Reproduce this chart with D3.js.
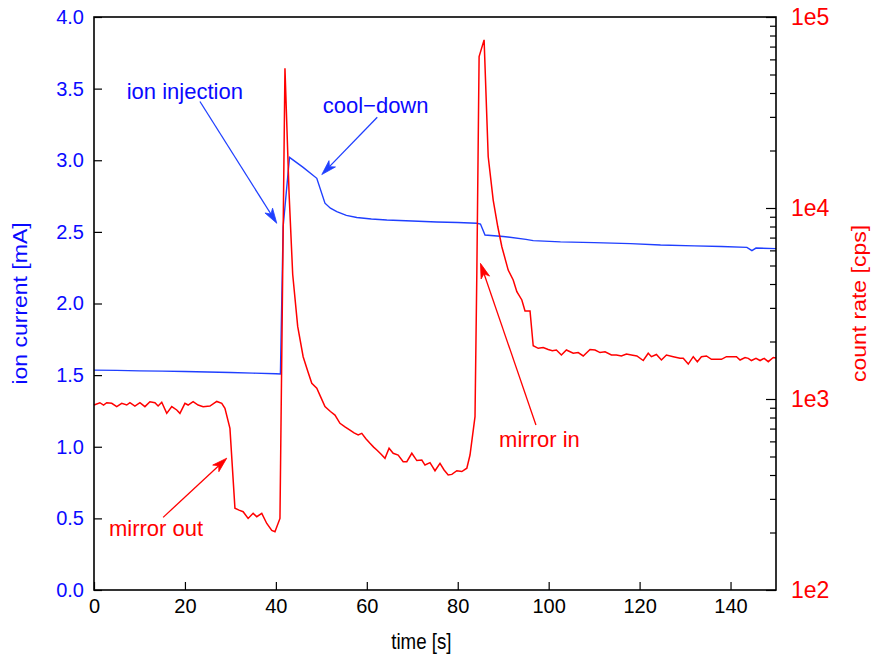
<!DOCTYPE html>
<html>
<head>
<meta charset="utf-8">
<script src="https://cdn.jsdelivr.net/npm/d3@7"></script>
<style>
  body { margin: 0; background: #fff; }
  text { font-family: "Liberation Sans", Arial, Helvetica, sans-serif; }
</style>
</head>
<body>
<div id="chart"></div>
<script>
// ion current (blue, left axis)
var ionTime = [0, 5, 10, 15, 20, 25, 30, 35, 40, 41.0, 41.6, 43.0, 46, 49.0, 50.8, 52.0, 53.4, 55.5, 57.8, 61, 64.4, 70, 75.4, 80, 84.2, 85.0, 86.0, 90, 95, 96.6, 102.6, 110, 118, 124.6, 132, 138, 143.6, 144.7, 145.6, 150];
var ionCurrent = [1.535, 1.533, 1.530, 1.528, 1.525, 1.522, 1.518, 1.514, 1.510, 1.508, 2.536, 3.02, 2.95, 2.874, 2.70, 2.665, 2.641, 2.615, 2.600, 2.59, 2.583, 2.576, 2.569, 2.565, 2.560, 2.555, 2.478, 2.468, 2.448, 2.439, 2.43, 2.425, 2.418, 2.408, 2.402, 2.398, 2.392, 2.369, 2.387, 2.383];

// count rate (red, right log axis)
var rateTime = [0, 1.3, 2.1, 2.8, 3.9, 5.0, 6.1, 7.2, 7.9, 9.0, 10.1, 11.2, 12.3, 13.4, 14.1, 14.9, 16.0, 17.1, 18.2, 18.9, 20.0, 20.7, 21.8, 22.9, 24.0, 25.5, 27.0, 28.1, 28.8, 29.9, 31.0, 31.9, 32.8, 33.9, 35.0, 35.8, 36.9, 38.0, 39.1, 39.8, 40.9,
  42.0, 42.9, 43.7, 44.8, 46.0, 47.0, 47.9, 49.0, 49.9, 50.8, 52.0, 53.0, 54.1, 55.2, 56.3, 57.2, 58.1, 58.9, 59.8, 60.7, 61.5, 62.2, 63.1, 64.0, 64.9, 65.8, 66.9, 68.0, 68.8, 69.9, 71.0, 72.1, 72.8, 73.9, 75.0, 76.1, 77.0, 77.9, 78.7, 79.8, 80.9, 82.0, 82.7, 83.8, 84.2, 84.7, 85.8,
  86.7, 87.8, 88.8, 89.7, 91.1, 92.2, 93.0, 94.1, 94.8, 95.9, 96.6, 97.7, 98.8, 99.9, 100.8, 101.7, 102.8, 103.9, 105.4, 106.5, 107.6, 109.1, 110.2, 111.3, 112.4, 113.8, 114.9, 116.0, 117.1, 118.2, 119.4, 120.8, 121.9, 122.6, 123.7, 124.8, 125.9, 127.4, 128.9, 129.6, 130.7, 131.8, 132.7, 133.6, 134.7, 135.8, 136.9, 138.0, 139.1, 140.2, 141.3, 142.1, 143.2, 143.9, 144.6, 145.6, 146.5, 147.4, 148.3, 149.4, 150];
var countRate = [930, 956, 930, 956, 949, 912, 949, 930, 956, 919, 956, 912, 968, 956, 919, 961, 841, 912, 876, 841, 949, 930, 968, 930, 912, 919, 971, 949, 893, 702, 268, 262, 257, 237, 252, 242, 252, 223, 205, 202, 237,
  53900, 12000, 4500, 2400, 1665, 1400, 1208, 1138, 1020, 912, 860, 824, 746, 715, 688, 665, 648, 661, 620, 586, 560, 541, 515, 489, 552, 520, 509, 470, 470, 520, 476, 479, 451, 464, 421, 460, 425, 400, 403, 421, 417, 434, 509, 808, 4550, 62000, 75900,
  18600, 11000, 8000, 6270, 4730, 4200, 3650, 3300, 2890, 2890, 1900, 1842, 1860, 1815, 1790, 1805, 1700, 1805, 1735, 1750, 1680, 1815, 1805, 1750, 1765, 1700, 1700, 1680, 1720, 1700, 1680, 1590, 1735, 1666, 1710, 1600, 1700, 1666, 1633, 1633, 1524, 1666, 1568, 1666, 1680, 1613, 1613, 1613, 1666, 1666, 1666, 1600, 1650, 1633, 1590, 1633, 1590, 1633, 1568, 1650, 1640];

var timeTicks = [0, 20, 40, 60, 80, 100, 120, 140];
var currentTicks = [0, 0.5, 1.0, 1.5, 2.0, 2.5, 3.0, 3.5, 4.0];
var rateTicks = [1e2, 1e3, 1e4, 1e5];

// annotations: text position and arrow (from -> to), in data units
var blueNotes = [
  { label: "ion injection", tx: 7.2, ty: 3.43, x1: 23.3, y1: 3.41, x2: 40.2, y2: 2.56 },
  { label: "cool\u2212down", tx: 50.3, ty: 3.33, x1: 62.3, y1: 3.30, x2: 50.1, y2: 2.90 }
];
var redNotes = [
  { label: "mirror out", tx: 3.3, ty: 192, x1: 15.2, y1: 240, x2: 29.2, y2: 490 },
  { label: "mirror in", tx: 89.1, ty: 563, x1: 97.2, y1: 731, x2: 85.0, y2: 5130 }
];

var width = 875, height = 662;
var margin = { left: 94, right: 99, top: 17, bottom: 72 };
var blue = "#1f3fff", blueText = "#0a0aff", red = "#ff0000";

var svg = d3.select("#chart").append("svg")
  .attr("width", width)
  .attr("height", height);

var x = d3.scaleLinear().domain([0, 150]).range([margin.left, width - margin.right]);
var yL = d3.scaleLinear().domain([0, 4]).range([height - margin.bottom, margin.top]);
var yR = d3.scaleLog().domain([1e2, 1e5]).range([height - margin.bottom, margin.top]);

// axes
var gx = svg.append("g")
  .attr("transform", "translate(0," + (height - margin.bottom) + ")")
  .call(d3.axisBottom(x).tickValues(timeTicks).tickSizeInner(-8).tickSizeOuter(0).tickPadding(9)
    .tickFormat(d3.format("d")));

var gl = svg.append("g")
  .attr("transform", "translate(" + margin.left + ",0)")
  .call(d3.axisLeft(yL).tickValues(currentTicks).tickSizeInner(-8).tickSizeOuter(0).tickPadding(10)
    .tickFormat(d3.format(".1f")));

var minorRate = [];
rateTicks.slice(0, 3).forEach(function(d) {
  for (var k = 2; k <= 9; k++) minorRate.push(d * k);
});

var grMinor = svg.append("g")
  .attr("transform", "translate(" + (width - margin.right) + ",0)")
  .call(d3.axisRight(yR).tickValues(minorRate).tickSizeInner(-6).tickSizeOuter(0).tickFormat(""));

var gr = svg.append("g")
  .attr("transform", "translate(" + (width - margin.right) + ",0)")
  .call(d3.axisRight(yR).tickValues(rateTicks).tickSizeInner(-10).tickSizeOuter(0).tickPadding(15)
    .tickFormat(function(d) { return "1e" + Math.round(Math.log10(d)); }));

[gx, gl, grMinor, gr].forEach(function(g) {
  g.select(".domain").remove();
  g.selectAll(".tick line").attr("stroke", "#000").attr("stroke-width", 1.2);
  g.selectAll(".tick text").attr("font-size", 20).style("font-family", "'Liberation Sans', Arial, sans-serif");
});
gl.selectAll(".tick text").attr("fill", blueText);
gr.selectAll(".tick text").attr("fill", red).attr("font-size", 23);
gx.selectAll(".tick text").attr("fill", "#000");

// curves
var ionLine = d3.line()
  .x(function(d, i) { return x(ionTime[i]); })
  .y(function(d) { return yL(d); });

var rateLine = d3.line()
  .x(function(d, i) { return x(rateTime[i]); })
  .y(function(d) { return yR(d); });

svg.append("path")
  .attr("d", ionLine(ionCurrent))
  .attr("fill", "none")
  .attr("stroke", blue)
  .attr("stroke-width", 1.4);

svg.append("path")
  .attr("d", rateLine(countRate))
  .attr("fill", "none")
  .attr("stroke", red)
  .attr("stroke-width", 1.5);

// frame
svg.append("rect")
  .attr("x", margin.left)
  .attr("y", margin.top)
  .attr("width", width - margin.left - margin.right)
  .attr("height", height - margin.top - margin.bottom)
  .attr("fill", "none")
  .attr("stroke", "#000")
  .attr("stroke-width", 1.6);

// annotations with arrows
function drawNote(n, yScale, color, textColor) {
  var ax = x(n.x1), ay = yScale(n.y1), bx = x(n.x2), by = yScale(n.y2);
  var ang = Math.atan2(by - ay, bx - ax);
  var len = 15, hw = 4.5, notch = 11;
  var ca = Math.cos(ang), sa = Math.sin(ang);
  var p1 = [bx - len * ca + hw * sa, by - len * sa - hw * ca];
  var p2 = [bx - len * ca - hw * sa, by - len * sa + hw * ca];
  var pn = [bx - notch * ca, by - notch * sa];

  svg.append("line")
    .attr("x1", ax).attr("y1", ay)
    .attr("x2", pn[0]).attr("y2", pn[1])
    .attr("stroke", color)
    .attr("stroke-width", 1.3);

  svg.append("path")
    .attr("d", "M" + bx + "," + by + "L" + p1 + "L" + pn + "L" + p2 + "Z")
    .attr("fill", color)
    .attr("stroke", color)
    .attr("stroke-width", 0.8);

  svg.append("text")
    .attr("x", x(n.tx))
    .attr("y", yScale(n.ty))
    .attr("fill", textColor)
    .attr("font-size", 22)
    .text(n.label);
}
blueNotes.forEach(function(n) { drawNote(n, yL, blue, blueText); });
redNotes.forEach(function(n) { drawNote(n, yR, red, red); });

// axis titles (the original lettering is narrow and tall)
var midY = margin.top + (height - margin.bottom - margin.top) / 2;

svg.append("text")
  .attr("transform", "translate(" + x(72) + ",649) scale(0.85,1)")
  .attr("text-anchor", "middle")
  .attr("font-size", 22)
  .attr("fill", "#000")
  .text("time [s]");

svg.append("text")
  .attr("transform", "translate(27," + midY + ") rotate(-90) scale(1,0.85)")
  .attr("text-anchor", "middle")
  .attr("font-size", 23)
  .attr("fill", blueText)
  .text("ion current [mA]");

svg.append("text")
  .attr("transform", "translate(866," + midY + ") rotate(-90) scale(1,0.85)")
  .attr("text-anchor", "middle")
  .attr("font-size", 23)
  .attr("fill", red)
  .text("count rate [cps]");
</script>
</body>
</html>
